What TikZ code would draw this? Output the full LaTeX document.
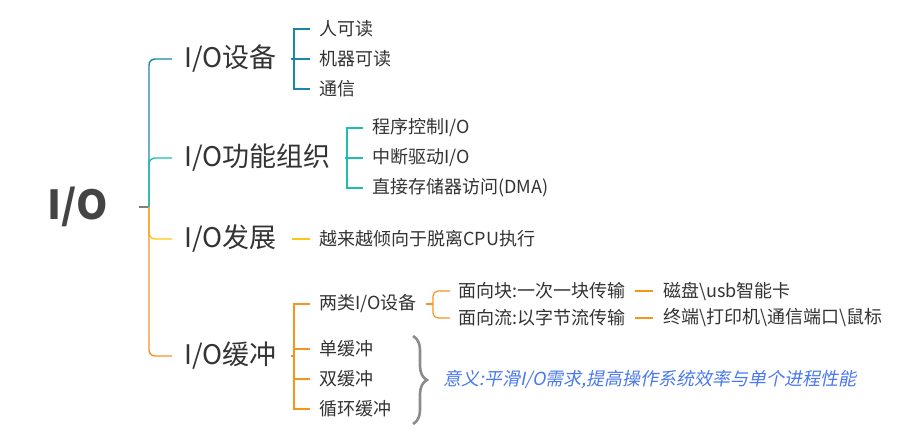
\documentclass[tikz,border=0pt]{standalone}
\usepackage{fontspec}
\newfontfamily\cjk{Noto Sans CJK SC}
\newfontfamily\cjkit[FakeSlant=0.2]{Noto Sans CJK SC}
\usetikzlibrary{decorations.pathreplacing}
\definecolor{cA}{HTML}{1A87A5}
\definecolor{cB}{HTML}{1CBFAE}
\definecolor{cC}{HTML}{FFC618}
\definecolor{cD}{HTML}{F7941D}
\definecolor{txt}{HTML}{333333}
\definecolor{rootc}{HTML}{444444}
\definecolor{bluet}{HTML}{4A78F0}
\definecolor{braceg}{HTML}{8C8C8C}
\tikzset{
  mainnode/.style={anchor=west, inner xsep=12pt, inner ysep=0pt, font=\cjk\fontsize{27}{30}\selectfont, text=txt},
  leaf/.style={anchor=west, inner xsep=9pt, inner ysep=0pt, font=\cjk\fontsize{18}{20}\selectfont, text=txt},
  trunk/.style={line width=1.4pt, rounded corners=6pt},
  sub/.style={line width=1.2pt},
  subr/.style={line width=1.2pt, rounded corners=5pt},
}
\begin{document}
\begin{tikzpicture}[x=1pt,y=-1pt]
\useasboundingbox (0,0) rectangle (908,441);
% root
\node[font=\cjk\bfseries\fontsize{40}{44}\selectfont, text=rootc, inner sep=0pt, anchor=west] (root) at (47,207) {I/O};
\coordinate (rj) at (139,207);
\coordinate (j) at (149,207);
\draw[line width=1.2pt, gray] (rj) -- (j);
% main branches
\node[mainnode] (b1) at (172,59) {I/O设备};
\node[mainnode] (b2) at (172,158) {I/O功能组织};
\node[mainnode] (b3) at (172,239) {I/O发展};
\node[mainnode] (b4) at (172,356) {I/O缓冲};
\draw[trunk, cA] (j) |- (b1.west);
\draw[trunk, cB] (j) |- (b2.west);
\draw[trunk, cC] (j) |- (b3.west);
\draw[trunk, cD] (j) |- (b4.west);
% branch 1 children
\node[leaf] (c11) at (310,29) {人可读};
\node[leaf] (c12) at (310,59) {机器可读};
\node[leaf] (c13) at (310,89) {通信};
\coordinate (k1) at (294,59);
\draw[sub, cA, shorten <=2pt] (b1.east) -- (k1);
\draw[sub, cA] (c11.west) -| (k1) |- (c13.west);
\draw[sub, cA] (k1) -- (c12.west);
% branch 2 children
\node[leaf] (c21) at (363,128) {程序控制I/O};
\node[leaf] (c22) at (363,158) {中断驱动I/O};
\node[leaf] (c23) at (363,188) {直接存储器访问(DMA)};
\coordinate (k2) at (347,158);
\draw[sub, cB, shorten <=2pt] (b2.east) -- (k2);
\draw[sub, cB] (c21.west) -| (k2) |- (c23.west);
\draw[sub, cB] (k2) -- (c22.west);
% branch 3 child
\node[leaf] (c31) at (310,239) {越来越倾向于脱离CPU执行};
\draw[sub, cC, shorten <=3pt] (b3.east) -- (c31.west);
% branch 4 children
\node[leaf] (c41) at (310,304) {两类I/O设备};
\node[leaf] (c42) at (310,349) {单缓冲};
\node[leaf] (c43) at (310,379) {双缓冲};
\node[leaf] (c44) at (310,409) {循环缓冲};
\coordinate (k4) at (294,356);
\draw[sub, cD, shorten <=2pt] (b4.east) -- (k4);
\draw[sub, cD] (c41.west) -| (k4) |- (c44.west);
\draw[sub, cD] (k4) |- (c42.west);
\draw[sub, cD] (k4) |- (c43.west);
% two kinds
\node[leaf, inner xsep=8pt] (d1) at (450,291) {面向块:一次一块传输};
\node[leaf, inner xsep=8pt] (d2) at (450,318) {面向流:以字节流传输};
\coordinate (k5) at (433,304);
\draw[sub, cD] (c41.east) -- (k5);
\draw[subr, cD] (d1.west) -| (k5) |- (d2.west);
\node[leaf, inner xsep=10pt] (e1) at (653,291) {磁盘\textbackslash usb智能卡};
\node[leaf, inner xsep=10pt] (e2) at (653,318) {终端\textbackslash 打印机\textbackslash 通信端口\textbackslash 鼠标};
\draw[sub, cD, shorten <=2pt] (d1.east) -- (e1.west);
\draw[sub, cD, shorten <=2pt] (d2.east) -- (e2.west);
% brace and meaning
\coordinate (bt) at (413,336);
\coordinate (bb) at (413,424);
\draw[decorate, decoration={brace, amplitude=14pt}, braceg, line width=2.6pt] (bt) -- (bb);
\node[anchor=west, inner sep=0pt, font=\cjkit\fontsize{18}{20}\selectfont, text=bluet] (m) at (443,380) {意义:平滑I/O需求,提高操作系统效率与单个进程性能};
\end{tikzpicture}
\end{document}
